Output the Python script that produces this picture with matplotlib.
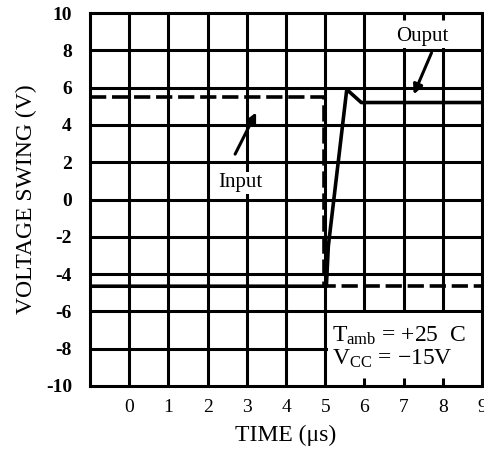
import matplotlib
matplotlib.use("Agg")
import matplotlib.pyplot as plt
from matplotlib.patches import Rectangle

# ---- data ----
input_t = [-1, 4.97, 4.97, 9]
input_v = [5.5, 5.5, -4.65, -4.65]
output_t = [-1, 5.03, 5.08, 5.55, 5.92, 9]
output_v = [-4.65, -4.65, -2.5, 5.9, 5.2, 5.2]
x_ticks = [0, 1, 2, 3, 4, 5, 6, 7, 8, 9]
y_ticks = [-10, -8, -6, -4, -2, 0, 2, 4, 6, 8, 10]
x_grid = [0, 1, 2, 3, 4, 5, 6, 7, 8]
y_grid = [-8, -6, -4, -2, 0, 2, 4, 6, 8]

plt.rcParams['font.family'] = ['Liberation Serif', 'DejaVu Serif']
plt.rcParams['mathtext.fontset'] = 'custom'
plt.rcParams['mathtext.rm'] = 'Liberation Serif'
plt.rcParams['mathtext.it'] = 'Liberation Serif'

fig = plt.figure(figsize=(4.84, 4.51), dpi=100)
ax = fig.add_axes([90/484, 65/451, 392/484, 373/451])
ax.set_xlim(-1, 9)
ax.set_ylim(-10, 10)

lw_grid = 2.2
for xv in x_grid:
    ax.axvline(xv, color='k', lw=lw_grid, zorder=0.5)
for yv in y_grid:
    ax.axhline(yv, color='k', lw=lw_grid, zorder=0.5)

# white regions (label areas)
ax.add_patch(Rectangle((5.06, -10.2), 4.2, 4.1, facecolor='white', edgecolor='none', zorder=1))
ax.add_patch(Rectangle((6.06, 8.1), 3.2, 2.2, facecolor='white', edgecolor='none', zorder=1))
# small inner ticks
ax.vlines([6, 7, 8], -10, -9.55, color='k', lw=lw_grid, zorder=1.5)
ax.vlines([7, 8], 9.6, 10, color='k', lw=lw_grid, zorder=1.5)

ax.plot(input_t, input_v, color='k', lw=2.6, dashes=(4.5, 1.6), zorder=2)
ax.plot(output_t, output_v, color='k', lw=2.6, zorder=2.1)

for s in ax.spines.values():
    s.set_linewidth(lw_grid)

ax.set_xticks(x_ticks)
ax.set_yticks(y_ticks)
ax.set_xticklabels([str(v) for v in x_ticks], fontsize=14)
ax.set_yticklabels([str(v) for v in y_ticks], fontsize=14, fontweight='bold')
ax.tick_params(axis='both', length=0)
ax.tick_params(axis='x', pad=9)
ax.tick_params(axis='y', pad=13)

ax.set_xlabel('TIME (\u03bcs)', fontsize=17, labelpad=7)
ax.set_ylabel('VOLTAGE SWING (V)', fontsize=17, labelpad=6)

# labels and arrows
ax.text(2.84, 0.9, 'Input', fontsize=15, ha='center', va='center', zorder=3,
        bbox=dict(facecolor='white', edgecolor='none', pad=1.0))
ax.annotate('', xy=(3.27, 4.8), xytext=(2.67, 2.3),
            arrowprops=dict(arrowstyle='-|>', lw=2.2, color='k', mutation_scale=14), zorder=3)
ax.text(7.49, 8.75, 'Ouput', fontsize=15, ha='center', va='center', zorder=3)
ax.annotate('', xy=(7.23, 5.5), xytext=(7.74, 8.0),
            arrowprops=dict(arrowstyle='-|>', lw=2.2, color='k', mutation_scale=14), zorder=3)

ax.text(5.17, -7.3, r'T$_{\rm amb}$ = +25  C', fontsize=17, ha='left', va='center', zorder=3)
ax.text(5.17, -8.55, 'V$_{\\rm CC}$ = \u221215V', fontsize=17,
        ha='left', va='center', zorder=3)

fig.savefig('out.png', dpi=100)
